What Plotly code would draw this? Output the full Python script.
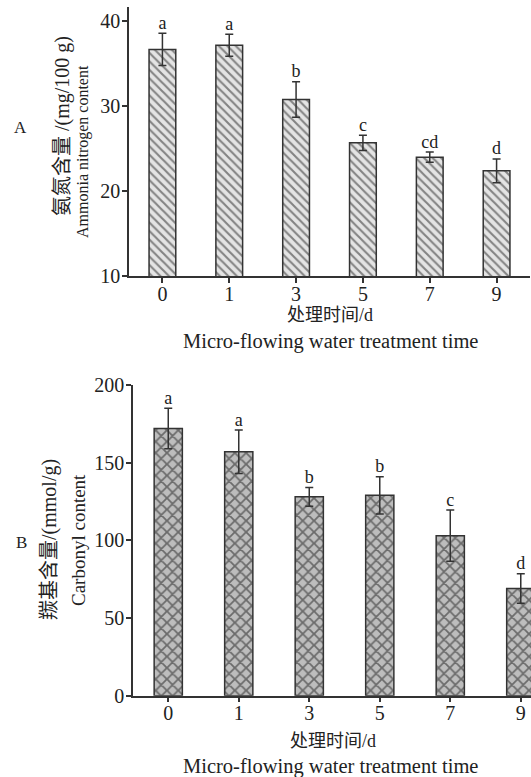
import plotly.graph_objects as go

days = ["0", "1", "3", "5", "7", "9"]
ammonia = [36.7, 37.2, 30.8, 25.7, 24.0, 22.4]
ammonia_err = [1.9, 1.3, 2.1, 0.9, 0.6, 1.4]
ammonia_letters = ["a", "a", "b", "c", "cd", "d"]
carbonyl = [172, 157, 128, 129, 103, 69]
carbonyl_err = [13, 14, 6, 12, 16.5, 9.5]
carbonyl_letters = ["a", "a", "b", "b", "c", "d"]

W, H = 531, 777
SERIF = "Liberation Serif"
CJK = "Noto Sans CJK SC"
AX = "#333333"

fig = go.Figure()

fig.add_trace(go.Bar(
    x=days, y=ammonia, width=0.4, xaxis="x", yaxis="y",
    marker=dict(color="#e4e4e4", line=dict(color=AX, width=1.5),
                pattern=dict(shape="\\", fgcolor="#222222", bgcolor="#e4e4e4", size=6, solidity=0.35)),
    error_y=dict(type="data", array=ammonia_err, color=AX, thickness=1.5, width=4),
    showlegend=False))
fig.add_trace(go.Scatter(
    x=days, y=[v + e for v, e in zip(ammonia, ammonia_err)], mode="text",
    text=ammonia_letters, textposition="top center", cliponaxis=False,
    textfont=dict(family=SERIF, size=18, color="#222"), xaxis="x", yaxis="y", showlegend=False))

fig.add_trace(go.Bar(
    x=days, y=carbonyl, width=0.4, xaxis="x2", yaxis="y2",
    marker=dict(color="#bdbdbd", line=dict(color=AX, width=1.5),
                pattern=dict(shape="x", fgcolor="#1a1a1a", bgcolor="#bdbdbd", size=8, solidity=0.4)),
    error_y=dict(type="data", array=carbonyl_err, color=AX, thickness=1.5, width=4),
    showlegend=False))
fig.add_trace(go.Scatter(
    x=days, y=[v + e for v, e in zip(carbonyl, carbonyl_err)], mode="text",
    text=carbonyl_letters, textposition="top center",
    textfont=dict(family=SERIF, size=18, color="#222"), xaxis="x2", yaxis="y2", showlegend=False, cliponaxis=False))

def px_x(p):
    return p / W

def px_y(p):
    return 1 - p / H

axis_common = dict(showline=True, linecolor=AX, linewidth=1.5, ticks="outside", ticklen=5,
                   tickcolor=AX, tickwidth=1.5, showgrid=False, zeroline=False, automargin=False,
                   tickfont=dict(family=SERIF, size=20, color="#222"))
x_common = dict(axis_common, ticklabelstandoff=-6)
y_common = dict(axis_common, ticklabelstandoff=-2)

fig.update_layout(
    width=W, height=H, margin=dict(l=0, r=0, t=0, b=0),
    paper_bgcolor="white", plot_bgcolor="white",
    xaxis=dict(domain=[px_x(129), px_x(530)], anchor="y", type="category",
               range=[-0.5, 5.5], **x_common),
    yaxis=dict(domain=[px_y(276), px_y(7)], anchor="x", range=[10, 41.7],
               tickvals=[10, 20, 30, 40], **y_common),
    xaxis2=dict(domain=[px_x(133), 1.0], anchor="y2", type="category",
                range=[-0.5, 5.145], **x_common),
    yaxis2=dict(domain=[px_y(695.7), px_y(385)], anchor="x2", range=[0, 200],
                tickvals=[0, 50, 100, 150, 200], **y_common),
)

def ann(text, x, y, size, family, angle=0):
    fig.add_annotation(text=text, x=px_x(x), y=px_y(y), xref="paper", yref="paper",
                       showarrow=False, textangle=angle, xanchor="center", yanchor="middle",
                       font=dict(family=family, size=size, color="#222"))

ann("A", 20, 128, 17, SERIF)
ann("氨氮含量 /(mg/100 g)", 62, 126, 20, SERIF + ", " + CJK, -90)
ann("Ammonia nitrogen content", 83, 152, 16, SERIF, -90)
ann("处理时间/d", 330, 315, 18, SERIF + ", " + CJK)
ann("Micro-flowing water treatment time", 330, 341, 20.5, SERIF)

ann("B", 21, 542, 17, SERIF)
ann("羰基含量/(mmol/g)", 49, 540, 20, SERIF + ", " + CJK, -90)
ann("Carbonyl content", 78, 540, 19, SERIF, -90)
ann("处理时间/d", 333, 741, 18, SERIF + ", " + CJK)
ann("Micro-flowing water treatment time", 330, 766, 20.5, SERIF)

fig.write_html("out.html", config={"displayModeBar": False},
               post_script="document.body.style.margin='0';document.body.style.overflow='hidden';")
